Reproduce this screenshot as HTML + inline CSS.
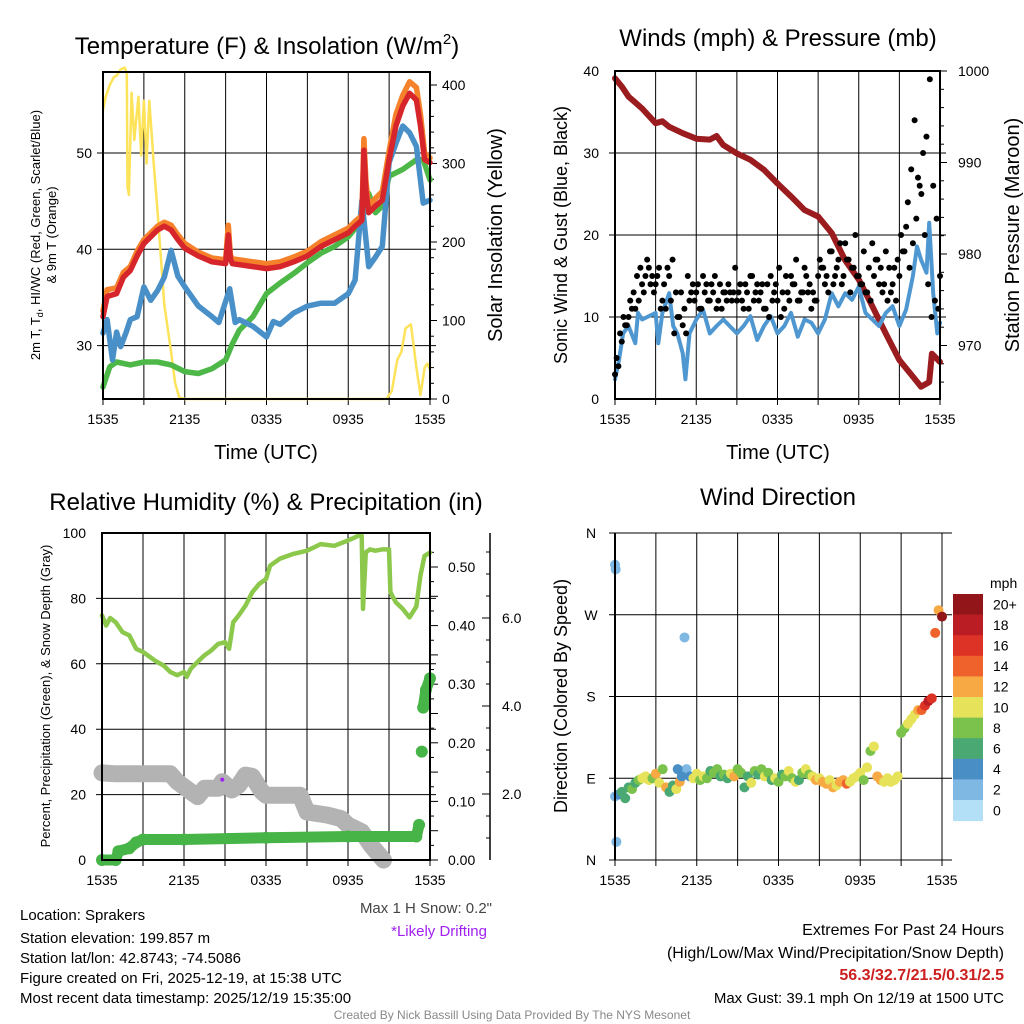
<!DOCTYPE html>
<html><head><meta charset="utf-8">
<style>
html,body{margin:0;padding:0;background:#fff;}
svg{display:block;font-family:"Liberation Sans",Arial,sans-serif;}
</style></head>
<body>
<svg id="fig" width="1024" height="1024" viewBox="0 0 1024 1024" xmlns="http://www.w3.org/2000/svg">
  <rect x="0" y="0" width="1024" height="1024" fill="#fff"/>
  <text x="267" y="54" font-size="24" text-anchor="middle">Temperature (F) &amp; Insolation (W/m<tspan font-size="15" dy="-10">2</tspan><tspan dy="10">)</tspan></text>
  <text x="778" y="46" font-size="24" text-anchor="middle">Winds (mph) &amp; Pressure (mb)</text>
  <text x="266" y="510" font-size="24" text-anchor="middle">Relative Humidity (%) &amp; Precipitation (in)</text>
  <text x="778" y="505" font-size="24" text-anchor="middle">Wind Direction</text>
  <text transform="translate(40,235) rotate(-90)" font-size="13" text-anchor="middle">2m T, T<tspan font-size="9" dy="3">d</tspan><tspan dy="-3">, HI/WC (Red, Green, Scarlet/Blue)</tspan></text>
  <text transform="translate(56,235) rotate(-90)" font-size="13" text-anchor="middle">&amp; 9m T (Orange)</text>
  <text transform="translate(502,235) rotate(-90)" font-size="20" text-anchor="middle">Solar Insolation (Yellow)</text>
  <text x="266" y="459" font-size="20" text-anchor="middle">Time (UTC)</text>
  <text transform="translate(567,235) rotate(-90)" font-size="18" text-anchor="middle">Sonic Wind &amp; Gust (Blue, Black)</text>
  <text transform="translate(1019,235) rotate(-90)" font-size="20" text-anchor="middle">Station Pressure (Maroon)</text>
  <text x="778" y="459" font-size="20" text-anchor="middle">Time (UTC)</text>
  <text transform="translate(50,696) rotate(-90)" font-size="13" text-anchor="middle">Percent, Precipitation (Green), &amp; Snow Depth (Gray)</text>
  <text transform="translate(567,696) rotate(-90)" font-size="18" text-anchor="middle">Direction (Colored By Speed)</text>
  <text x="492" y="913" font-size="15" fill="#444" text-anchor="end">Max 1 H Snow: 0.2"</text>
  <text x="487" y="936" font-size="15" fill="#a020f0" text-anchor="end">*Likely Drifting</text>
  <text x="990" y="588" font-size="14">mph</text>
  <g font-size="15">
    <text x="20" y="920">Location: Sprakers</text>
    <text x="20" y="943">Station elevation: 199.857 m</text>
    <text x="20" y="963">Station lat/lon: 42.8743; -74.5086</text>
    <text x="20" y="983">Figure created on Fri, 2025-12-19, at 15:38 UTC</text>
    <text x="20" y="1003">Most recent data timestamp: 2025/12/19 15:35:00</text>
  </g>
  <g font-size="16" text-anchor="end">
    <text x="1004" y="935">Extremes For Past 24 Hours</text>
    <text x="1004" y="958">(High/Low/Max Wind/Precipitation/Snow Depth)</text>
    <text x="1004" y="980" font-weight="bold" fill="#cc2020">56.3/32.7/21.5/0.31/2.5</text>
    <text x="1004" y="1003" font-size="15">Max Gust: 39.1 mph On 12/19 at 1500 UTC</text>
  </g>
  <text x="512" y="1019" font-size="12" fill="#888" text-anchor="middle">Created By Nick Bassill Using Data Provided By The NYS Mesonet</text>
  <g id="plots"></g>
</svg>
<script>
const xTickLabels = ["1535","2135","0335","0935","1535"];
const xTickHours = [0,6,12,18,24];
const tHours = [0,0.3,1,1.5,2,2.5,3,4,4.5,5,5.5,6,7,8,9,9.2,9.35,9.5,10,11,12,13,14,15,16,17,18,18.5,19,19.15,19.3,19.5,20,20.5,21,21.5,22,22.5,23,23.3,23.6,24];
const tempRed = [33,35.1,35.4,37.1,37.8,39.3,40.6,42,42.4,42,41,40.1,39.3,38.7,38.5,41.5,39,38.5,38.4,38.2,38,38.2,38.7,39.3,40.3,41,41.7,42.4,43,50.3,46,43.8,44.5,45.1,49.3,52.8,54.9,56.2,55.5,52.8,49.3,49];
const tempOrange = [33.6,35.8,36,37.6,38.2,39.8,41,42.4,42.8,42.5,41.5,40.6,39.7,39.1,38.9,42.5,39.4,39,38.9,38.7,38.5,38.7,39.2,39.8,40.8,41.5,42.2,42.9,43.5,51.5,47,44.5,45.3,46,50.2,54,56,57.4,56.8,54,50,49.5];
const bHours = [0,0.3,0.7,1,1.3,1.7,2,2.5,3,3.5,4,4.5,5,5.5,6,7,8,8.5,9.3,9.7,10,11,12,12.5,13,14,15,16,17,18,18.5,19,19.5,20,20.5,21,21.5,22,22.5,23,23.5,24];
const tempBlue = [31.3,32.7,28.5,31.4,29.9,31.4,32.7,33,36.1,34.7,35.7,37.1,39.9,37.2,36.1,34.1,33,32.4,35.9,32.4,32.7,32,30.9,32.5,32.2,33.4,34.1,34.4,34.4,35.4,36.8,45.1,38.2,39.2,40.3,49,51,52.8,52.1,50.7,44.8,45.1];
const gHours = [0,0.5,1,2,3,4,5,6,7,8,9,9.5,10,11,12,13,14,15,16,17,18,19,19.5,20,20.5,21,22,23,23.5,24];
const tempGreen = [25.7,27.8,28.3,28,28.3,28.3,28,27.3,27.1,27.6,28.5,30.2,31.6,33,35.4,36.5,37.5,38.6,39.6,40.3,41.3,43,45.8,43.8,44.5,47.6,48.3,49.3,49.3,47.2];
const sHours = [0,0.2,0.5,0.8,1,1.3,1.6,1.75,1.8,1.9,2.1,2.3,2.6,2.8,3,3.2,3.4,3.6,3.7,4,4.5,5,5.3,5.6,6,20.8,21.2,21.6,21.9,22.2,22.6,23,23.3,23.6,23.8,24];
const solar = [368,385,400,410,412,420,422,415,270,260,390,330,385,310,380,300,380,330,305,240,120,60,20,2,0,0,10,50,60,90,95,40,5,40,45,38];
const pHours = [0,0.5,1,2,3,3.5,4,5,6,7,7.5,8,9,10,11,12,13,14,15,16,17,18,19,20,21,22,22.6,23.2,23.4,24];
const pressure = [999.2,998.3,997.2,995.9,994.3,994.5,993.9,993.2,992.6,992.5,992.9,991.9,991,990.3,989.2,987.7,986.3,984.8,984.1,982.3,979.3,977.2,974.3,971.3,968.4,966.6,965.5,966,969.1,968.2];
const wHours = [0,0.3,0.6,1,1.5,1.7,2,3,3.2,3.5,4,4.3,4.6,5,5.2,5.5,6,6.5,7,7.5,8,9,9.5,10,10.5,11,11.5,12,12.5,13,13.5,14,14.5,15,15.5,16,16.5,17,17.5,18,18.5,19,19.5,20,20.5,21,21.5,22,22.3,22.6,23,23.2,23.5,23.8,24];
const windSpeed = [2.4,4.8,8,8.9,6.8,10.5,9.7,10.5,6.8,10.5,12.9,8.9,8,5.6,2.4,8,9.7,10.9,8,8.9,9.7,8,8.9,10.1,7.2,8.9,10.1,8,8.9,10.5,7.6,9.7,9.3,8,9.7,12.9,11.3,12.9,12.1,13.7,10.5,9.7,8.9,10.5,11.3,8.9,10.9,15,18.6,17,15.4,21.5,12.9,8,9.3];
const gustA = [3,4,7,9,10,11,11,12,14,15,16,15,14,16,12,11,15,17,13,10,9,8,12,14,13,11,15,14,12,13,11,14,13,12,13,13,12,14,11,13,15,12,14,13,11,14,15,13,12,10,11,13,15,14,12,13,16,13,11,12,15,16,14,13,18,15,17,14,19,17,16,20,15,14,13,16,19,17,14,13,18,16,14,12,15,18,21,16,19,22,26,30,32,39,26,22,15];
const gustB = [5,8,10,9,12,13,15,16,13,17,14,13,15,11,14,16,12,8,10,13,11,15,13,12,14,11,13,12,14,15,12,11,13,14,12,16,13,12,14,11,15,13,12,14,11,10,12,14,16,13,15,12,14,17,12,13,15,14,13,12,17,16,15,18,14,16,19,15,17,13,16,15,14,18,13,12,15,17,16,14,12,13,16,17,20,18,24,28,34,27,25,20,14,10,12,11];
const rhHours = [0,0.3,0.6,1,1.5,2,2.5,3,4,4.5,5,5.5,6,6.2,6.5,7,7.5,8,8.5,9,9.3,9.6,10,10.5,11,11.5,12,12.3,13,14,15,16,17,18,18.8,19,19.1,19.3,19.6,20,20.5,21,21.1,21.5,22,22.5,23,23.3,23.6,24];
const rh = [74.8,71.7,74,72.7,69.7,68.7,64.6,63.6,60.6,59.5,57.5,56.5,57.5,56,58.5,60.6,62.6,64.1,66.1,66.6,64.6,72.7,74.8,77.8,81.9,84.4,85.9,90,92.1,93.6,94.6,96.6,96.1,97.7,99.2,99.2,76.8,94.1,95,94.6,95,95,81.9,78.8,76.8,74.2,77.5,86.9,93,94];
const prHours = [0,1,1.2,2,2.5,3,6,12,18,23,23.2,23.4,23.5,23.7,24];
const precip = [0,0,0.015,0.02,0.03,0.035,0.035,0.038,0.04,0.04,0.06,0.185,0.26,0.29,0.31];
const snHours = [0,1,5,5.5,6.5,7,7.5,8.5,8.8,9.5,10,10.5,11,11.7,12,14.5,15,16.5,17.5,18,19,19.7,20.3,20.6];
const snowDepth = [2.48,2.46,2.46,2.28,2.05,1.94,2.13,2.13,2.28,2.09,2.2,2.43,2.4,2.05,1.97,1.97,1.59,1.52,1.44,1.29,1.14,0.83,0.61,0.5];
const dirs = [70,72,75,68,80,78,85,88,90,92,88,90,95,85,100,80,75,82,78,86,98,100,92,90,95,88,92,90,98,96,100,92,94,90,95,92,100,96,80,92,85,98,94,100,92,96,88,90,86,94,92,98,90,86,88,96,100,94,92,88,90,86,84,88,80,82,86,88,84,86,90,92,96,88,102,120,125,92,88,86,90,86,88,92,140,145,150,155,160,165,165,170,175,178,250,275,268];
const dirSpeeds = [3,5,6,7,6,8,7,9,10,10,11,9,12,10,8,12,7,6,11,12,8,3,4,10,11,9,10,8,7,9,8,6,8,7,10,12,9,8,7,6,10,8,7,9,10,8,6,10,9,7,8,11,9,10,7,8,11,9,10,12,11,12,13,11,12,10,13,12,14,11,10,11,10,9,10,8,11,12,12,10,11,10,10,11,9,9,10,10,11,13,14,17,18,17,15,12,20,7];
const extraDirHours = [0,0.05,0.1,5.1,4.6,4.9];
const extraDirs = [325,320,20,245,100,92];
const extraSpeeds = [2,2,2,2,4,4];
const speedBins = ["20+","18","16","14","12","10","8","6","4","2","0"];
const binColors = ["#921519","#bb1d24","#dc3326","#f0622b","#f7a944","#e6e25a","#7ac24b","#4aa872","#4a8ec6","#7fb8e3","#b3e0f7"];

const NS = "http://www.w3.org/2000/svg";
const root = document.getElementById("plots");
function mk(tag, attrs, parent){
  const e = document.createElementNS(NS, tag);
  for (const k in attrs) e.setAttribute(k, attrs[k]);
  (parent||root).appendChild(e);
  return e;
}
function txt(x,y,s,size,anchor,parent){
  const t = mk("text",{x:x,y:y,"font-size":size,"text-anchor":anchor||"start"},parent);
  t.textContent = s;
  return t;
}
function pathFrom(hours, vals, X, Y){
  let d = "";
  for (let i=0;i<Math.min(hours.length,vals.length);i++){
    d += (i?"L":"M") + X(hours[i]).toFixed(1) + "," + Y(vals[i]).toFixed(1);
  }
  return d;
}
function frame(x0,y0,x1,y1,name){
  const g = mk("g",{});
  
  
  return g;
}
function vgrid(g, X, y0, y1){
  for (let h=0; h<=24; h+=3){
    const l = mk("line",{x1:X(h),x2:X(h),y1:y0,y2:y1+6,stroke:"#000","stroke-width":1},g);
    
    
  }
  xTickHours.forEach((h,i)=>{
    const t = txt(X(h), y1+25, xTickLabels[i], 14, "middle", g);
    
    
  });
}
function hgrid(g, ys, x0, x1){
  ys.forEach(y=>{
    const l = mk("line",{x1:x0-6,x2:x1+6,y1:y,y2:y,stroke:"#000","stroke-width":1},g);
    
    
  });
}
function box(g,x0,y0,x1,y1){
  const r = mk("rect",{x:x0,y:y0,width:x1-x0,height:y1-y0,fill:"none",stroke:"#000","stroke-width":2},g);
  
  
}
function speedColor(s){
  const idx = Math.min(10, Math.floor(s/2));
  return binColors[10-idx];
}

(function(){
  const x0=103,x1=430,y0=72,y1=399;
  const X = h => x0 + h*(x1-x0)/24;
  const T = v => 153 + (50-v)*9.63;
  const S = v => y1 - v*0.785;
  const g = frame(x0,y0,x1,y1,"temperature-panel");
  vgrid(g,X,y0,y1);
  hgrid(g,[30,40,50].map(T),x0,x1);
  [30,40,50].forEach(v=>{const t=txt(x0-11,T(v)+5,String(v),14,"end",g);});
  for (let v=0; v<=400; v+=20){ mk("line",{x1:x1,x2:x1+(v%100?4:7),y1:S(v),y2:S(v),stroke:"#000"},g); }
  [0,100,200,300,400].forEach(v=>{const t=txt(x1+12,S(v)+5,String(v),14,"start",g);});
  const yl = mk("path",{d:pathFrom(sHours,solar,X,S),fill:"none",stroke:"#fde35a","stroke-width":2.5,"stroke-linejoin":"round"},g);
  
  
  const gl = mk("path",{d:pathFrom(gHours,tempGreen,X,T),fill:"none",stroke:"#4db848","stroke-width":5.5,"stroke-linejoin":"round","stroke-linecap":"round"},g);
  
  
  const bl = mk("path",{d:pathFrom(bHours,tempBlue,X,T),fill:"none",stroke:"#4a90c8","stroke-width":5.5,"stroke-linejoin":"round","stroke-linecap":"round"},g);
  
  
  const ol = mk("path",{d:pathFrom(tHours,tempOrange,X,T),fill:"none",stroke:"#f5822a","stroke-width":5.5,"stroke-linejoin":"round","stroke-linecap":"round"},g);
  
  
  const rl = mk("path",{d:pathFrom(tHours,tempRed,X,T),fill:"none",stroke:"#d7262b","stroke-width":5.5,"stroke-linejoin":"round","stroke-linecap":"round"},g);
  
  
  box(g,x0,y0,x1,y1);
})();

(function(){
  const x0=615,x1=940,y0=71,y1=399;
  const X = h => x0 + h*(x1-x0)/24;
  const W = v => y1 - v*8.2;
  const P = v => y0 + (1000-v)*9.15;
  const g = frame(x0,y0,x1,y1,"wind-pressure-panel");
  vgrid(g,X,y0,y1);
  hgrid(g,[10,20,30].map(W),x0,x1);
  [0,10,20,30,40].forEach(v=>{const t=txt(x0-16,W(v)+5,String(v),14,"end",g);});
  for (let v=1000; v>=965; v-=2){ mk("line",{x1:x1,x2:x1+(v%10?4:7),y1:P(v),y2:P(v),stroke:"#000"},g); }
  [970,980,990,1000].forEach(v=>{const t=txt(x1+18,P(v)+5,String(v),14,"start",g);});
  const pl = mk("path",{d:pathFrom(pHours,pressure,X,P),fill:"none",stroke:"#9b1c1f","stroke-width":6,"stroke-linejoin":"round","stroke-linecap":"round"},g);
  
  
  const wl = mk("path",{d:pathFrom(wHours,windSpeed,X,W),fill:"none",stroke:"#4f97d0","stroke-width":4,"stroke-linejoin":"round","stroke-linecap":"round"},g);
  
  
  gustA.forEach((v,i)=>{ const h=i*0.25; if(h>24) return;
    const c = mk("circle",{cx:X(h),cy:W(v),r:3,fill:"#000"},g);
    
    
  });
  gustB.forEach((v,i)=>{ const h=i*0.25+0.125; if(h>24) return;
    const c = mk("circle",{cx:X(h),cy:W(v),r:3,fill:"#000"},g);
    
    
  });
  box(g,x0,y0,x1,y1);
})();

(function(){
  const x0=102,x1=430,y0=533,y1=860;
  const X = h => x0 + h*(x1-x0)/24;
  const RH = v => y1 - v*3.27;
  const PR = v => y1 - v*586;
  const SN = v => 882 - v*44;
  const g = frame(x0,y0,x1,y1,"humidity-precip-panel");
  vgrid(g,X,y0,y1);
  hgrid(g,[20,40,60,80].map(RH),x0,x1);
  [0,20,40,60,80,100].forEach(v=>{const t=txt(x0-16,RH(v)+5,String(v),14,"end",g);});
  for (let v=0; v<=0.55; v+=0.025){ mk("line",{x1:x1,x2:x1+(Math.round(v*1000)%50?4:8),y1:PR(v),y2:PR(v),stroke:"#000"},g); }
  [0,0.1,0.2,0.3,0.4,0.5].forEach(v=>{const t=txt(x1+18,PR(v)+5,v.toFixed(2),14,"start",g);});
  const ax = mk("line",{x1:490,x2:490,y1:y0,y2:y1,stroke:"#000","stroke-width":1.5},g);
  
  
  for (let v=1; v<=7.5; v+=0.5){ if (SN(v)<y0||SN(v)>y1) continue; mk("line",{x1:490,x2:490-(v%2?4:8),y1:SN(v),y2:SN(v),stroke:"#000"},g); }
  [2,4,6].forEach(v=>{const t=txt(502,SN(v)+5,v.toFixed(1),14,"start",g);});
  const sl = mk("path",{d:pathFrom(snHours,snowDepth,X,SN),fill:"none",stroke:"#b3b3b3","stroke-width":17,"stroke-linejoin":"round","stroke-linecap":"round"},g);
  
  
  const dot = mk("circle",{cx:X(8.8),cy:SN(2.28)-2,r:2,fill:"#a020f0"},g);
  
  
  const rl = mk("path",{d:pathFrom(rhHours,rh,X,RH),fill:"none",stroke:"#8cc84b","stroke-width":4.5,"stroke-linejoin":"round","stroke-linecap":"round"},g);
  
  
  for (let i=1;i<prHours.length;i++){
    if (Math.abs(precip[i]-precip[i-1])>0.05) continue;
    const s = mk("line",{x1:X(prHours[i-1]),y1:PR(precip[i-1]),x2:X(prHours[i]),y2:PR(precip[i]),stroke:"#47b447","stroke-width":11,"stroke-linecap":"round"},g);
    
    
  }
  prHours.forEach((h,i)=>{
    const c = mk("circle",{cx:X(h),cy:PR(precip[i]),r:6,fill:"#47b447"},g);
    
    
  });
  box(g,x0,y0,x1,y1);
})();

(function(){
  const x0=615,x1=942,y0=533,y1=860;
  const X = h => x0 + h*(x1-x0)/24;
  const D = v => y1 - v*(y1-y0)/360;
  const g = frame(x0,y0,x1,y1,"wind-direction-panel");
  vgrid(g,X,y0,y1);
  hgrid(g,[90,180,270].map(D),x0,x1+4);
  mk("line",{x1:x0-6,x2:x1+10,y1:y0,y2:y0,stroke:"#000"},g);
  mk("line",{x1:x0-6,x2:x1+10,y1:y1,y2:y1,stroke:"#000"},g);
  ["N","E","S","W","N"].forEach((s,i)=>{const t=txt(591,D(i*90)+5,s,14,"middle",g);});
  dirs.forEach((v,i)=>{ const h=i*0.25; if(h>24||i>=dirSpeeds.length) return;
    const c = mk("circle",{cx:X(h),cy:D(v),r:5,fill:speedColor(dirSpeeds[i])},g);
    
    
  });
  extraDirHours.forEach((h,i)=>{
    const c = mk("circle",{cx:X(h),cy:D(extraDirs[i]),r:5,fill:speedColor(extraSpeeds[i])},g);
    
    
  });
  mk("line",{x1:x0,x2:x0,y1:y0,y2:y1,stroke:"#000","stroke-width":2},g);
  const cb = mk("g",{});
  
  
  const bh = 20.6, by = 594;
  speedBins.forEach((lab,i)=>{
    const r = mk("rect",{x:953,y:by+i*bh,width:30,height:bh+0.5,fill:binColors[i]},cb);
    
    
    const t = txt(993, by+i*bh+bh/2+5, lab, 14, "start", cb);
    
    
  });
})();
</script>
</body></html>
